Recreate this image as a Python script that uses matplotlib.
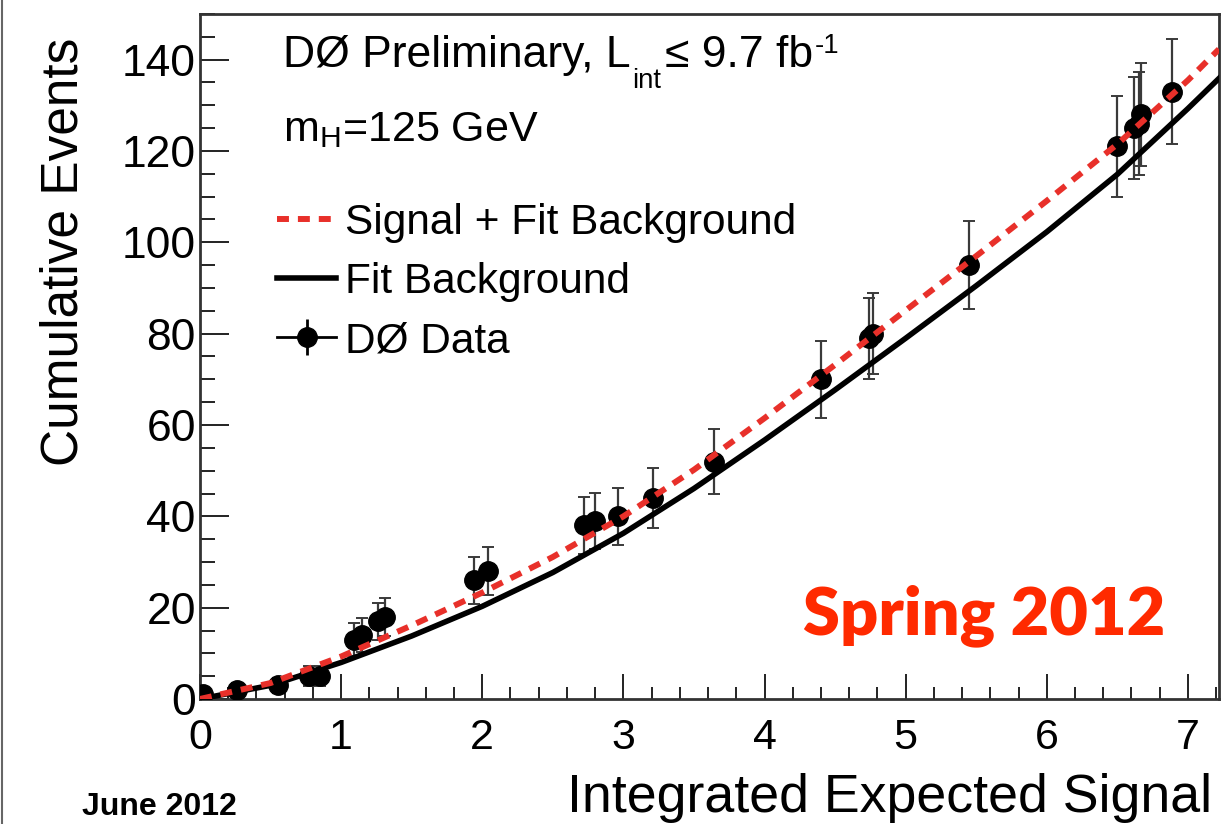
import matplotlib
matplotlib.use("Agg")
import matplotlib.pyplot as plt
from matplotlib.lines import Line2D
from matplotlib.ticker import MultipleLocator
from matplotlib.transforms import IdentityTransform
from matplotlib.legend_handler import HandlerTuple

plt.rcParams['font.family'] = ['Liberation Sans', 'DejaVu Sans']
plt.rcParams['mathtext.fontset'] = 'custom'
plt.rcParams['mathtext.rm'] = 'Liberation Sans'
plt.rcParams['mathtext.it'] = 'Liberation Sans:italic'
plt.rcParams['mathtext.bf'] = 'Liberation Sans:bold'

# D0 data: cumulative observed events vs integrated expected signal
data_x = [0.02, 0.26, 0.55, 0.77, 0.85, 1.09, 1.15, 1.26, 1.31, 1.94, 2.04,
          2.72, 2.80, 2.96, 3.21, 3.64, 4.40, 4.74, 4.77, 5.45, 6.50, 6.62,
          6.65, 6.67, 6.89]
data_y = [1, 2, 3, 5, 5, 13, 14, 17, 18, 26, 28,
          38, 39, 40, 44, 52, 70, 79, 80, 95, 121, 125,
          126, 128, 133]
data_err = [1.0, 1.4, 1.7, 2.2, 2.2, 3.6, 3.7, 4.1, 4.2, 5.1, 5.3,
            6.2, 6.2, 6.3, 6.6, 7.2, 8.4, 8.9, 8.9, 9.7, 11.0, 11.2,
            11.2, 11.3, 11.5]

# fitted expectations
curve_x = [0, 0.5, 1, 1.5, 2, 2.5, 3, 3.5, 4, 4.5, 5, 5.5, 6, 6.5, 7, 7.22]
fit_bkg = [0, 3.0, 8.0, 13.8, 20.3, 27.7, 36.3, 46.1, 56.7, 67.7, 79.0,
           90.5, 102.3, 114.9, 129.3, 135.9]
sig_plus_bkg = [0, 3.5, 9.3, 16.1, 23.3, 31.1, 40.0, 50.2, 61.5, 73.2, 85.1,
                97.0, 109.1, 121.5, 135.5, 142.3]

W, H = 1224, 824
fig = plt.figure(figsize=(W / 100, H / 100), dpi=100)
ax = fig.add_axes([200 / W, (H - 699) / H, 1019 / W, 685 / H])

red = '#e8302a'

ax.errorbar(data_x, data_y, yerr=data_err, fmt='o', color='black',
            ms=14, ecolor='#3a3a3a', elinewidth=1.6, capsize=4, capthick=1.4,
            zorder=3)
ax.plot(curve_x, fit_bkg, color='black', lw=4.0, zorder=4,
        solid_joinstyle='round')
ax.plot(curve_x, sig_plus_bkg, color=red, lw=4.3, zorder=5,
        dashes=(2.0, 1.5))

ax.set_xlim(0, 7.22)
ax.set_ylim(0, 150)
ax.xaxis.set_major_locator(MultipleLocator(1))
ax.xaxis.set_minor_locator(MultipleLocator(0.2))
ax.yaxis.set_major_locator(MultipleLocator(20))
ax.yaxis.set_minor_locator(MultipleLocator(5))

ax.tick_params(axis='both', which='both', direction='in', top=False,
               right=False, width=1.4, color='#222222')
ax.tick_params(axis='x', which='major', length=18, labelsize=31, pad=14)
ax.tick_params(axis='x', which='minor', length=8.5)
ax.tick_params(axis='y', which='major', length=21, labelsize=32, pad=3)
ax.tick_params(axis='y', which='minor', length=10.5)
for s in ax.spines.values():
    s.set_linewidth(2.0)
    s.set_color('#333333')

ax.set_xlabel('Integrated Expected Signal', fontsize=38.7, ha='right',
              va='baseline')
ax.xaxis.set_label_coords(1012 / 1019, (699 - 812) / 685)
ax.set_ylabel('Cumulative Events', fontsize=37, ha='right', va='center')
ax.yaxis.set_label_coords((64 - 200) / 1019, (699 - 38) / 685)

# header: experiment label with luminosity, built piece by piece
fig.canvas.draw()
renderer = fig.canvas.get_renderer()
F = 32
x_px, base_px = 283, H - 67
pix = IdentityTransform()
t = fig.text(x_px / W, base_px / H, 'DØ Preliminary, L', fontsize=F,
             va='baseline', ha='left')
x_end = t.get_window_extent(renderer).x1
t = ax.text(x_end + 2, base_px - 21, 'int', fontsize=F * 0.62,
            transform=pix, va='baseline', ha='left')
x_end = t.get_window_extent(renderer).x1
t = ax.text(x_end + 3, base_px, '≤ 9.7 fb', fontsize=F,
            transform=pix, va='baseline', ha='left')
x_end = t.get_window_extent(renderer).x1
ax.text(x_end + 2, base_px + 14, '-1', fontsize=F * 0.62,
        transform=pix, va='baseline', ha='left')

ax.text(0.0815, 0.815, r'm$_{\mathrm{H}}$=125 GeV',
        transform=ax.transAxes, fontsize=31, va='baseline', ha='left')

data_line = Line2D([], [], color='black', lw=2.0, marker='o', ms=14)
data_bar = Line2D([], [], color='black', ls='none', marker='|', ms=26,
                  mew=2.0)
sb_handle = Line2D([], [], color=red, lw=4.3, dashes=(2.0, 1.5))
bkg_handle = Line2D([], [], color='black', lw=4.0)
ax.legend([sb_handle, bkg_handle, (data_line, data_bar)],
          ['Signal + Fit Background', 'Fit Background', 'DØ Data'],
          handler_map={tuple: HandlerTuple(ndivide=1)},
          loc='upper left', bbox_to_anchor=((277 - 200) / 1019, (699 - 203) / 685),
          frameon=False, fontsize=30.5, handlelength=1.4, handletextpad=0.2,
          labelspacing=0.45, borderpad=0, borderaxespad=0, numpoints=1)

ax.text((803 - 200) / 1019, (699 - 634) / 685, 'Spring 2012',
        transform=ax.transAxes, fontsize=48, fontweight='heavy',
        family=['Lato', 'DejaVu Sans'], color='#ff2a00', va='baseline',
        ha='left')

fig.text(82 / W, (H - 815) / H, 'June 2012', fontsize=23, fontweight='bold',
         ha='left', va='baseline')

fig.add_artist(Line2D([2 / W, 2 / W], [0, 1], transform=fig.transFigure,
                      color='#666666', lw=1.5))

fig.savefig('out.png', dpi=100, facecolor='white')
